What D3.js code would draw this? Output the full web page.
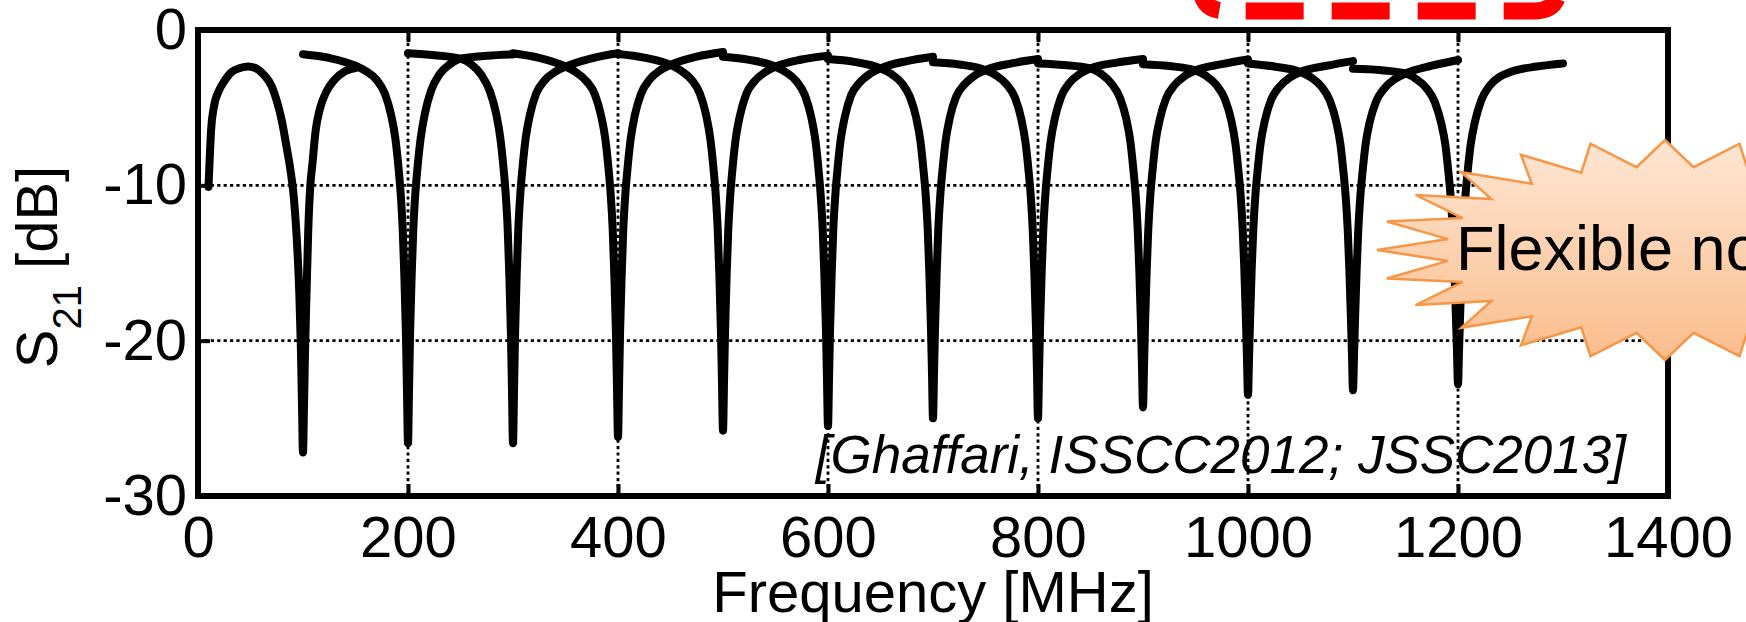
<!DOCTYPE html>
<html>
<head>
<meta charset="utf-8">
<script src="https://cdn.jsdelivr.net/npm/d3@7"></script>
<style>
  body { margin: 0; background: #fff; }
  svg { display: block; font-family: "Liberation Sans", Arial, sans-serif; }
</style>
</head>
<body>
<div class="chart"></div>
<script>
// first sweep (notch at 100 MHz) starts at 10 MHz, so it has its own frequency list
var freq_100 = [10, 11, 12.5, 15, 20, 25, 32, 40, 48, 56, 63, 70, 76, 80, 84, 88, 91, 93, 95, 96.5, 98, 99, 100,
                101, 102, 103.5, 105, 107, 109, 112, 116, 122, 130, 140, 150];
var s21_100 = [-10.1, -8.5, -6.4, -5.0, -3.9, -3.3, -2.7, -2.45, -2.35, -2.5, -2.9, -3.6, -4.8, -5.9, -7.4, -9.0, -10.6, -12.3, -14.6, -17.0, -20.5, -24.0, -27.2,
               -24.0, -20.5, -16.6, -12.9, -10.0, -8.6, -6.5, -5.1, -4.0, -3.2, -2.65, -2.45];

// the other sweeps: frequency offset from the notch [MHz]
var notchOffsets = [-100, -75, -50, -40, -30, -22, -16, -12, -9, -7, -5, -3.5, -2, -1, 0,
                    1, 2, 3.5, 5, 7, 9, 12, 16, 22, 30, 40, 50, 75, 100];
var notchFreqs = [200, 300, 400, 500, 600, 700, 800, 900, 1000, 1100, 1200];

var s21_200 = [-1.56, -1.80, -2.30, -2.65, -3.2, -4.1, -5.5, -7.0, -8.9, -10.5, -12.9, -15.8, -19.5, -23.1, -26.6,
               -23.1, -19.5, -15.8, -12.9, -10.5, -8.9, -7.0, -5.4, -3.9, -2.85, -2.2, -1.85, -1.66, -1.57];
var s21_300 = [-1.50, -1.62, -1.85, -2.2, -2.9, -3.95, -5.4, -7.0, -8.9, -10.5, -12.9, -15.8, -19.5, -23.1, -26.6,
               -23.1, -19.5, -15.8, -12.9, -10.5, -8.9, -7.0, -5.5, -4.1, -3.25, -2.7, -2.36, -1.82, -1.50];
var s21_400 = [-1.50, -1.80, -2.36, -2.72, -3.3, -4.15, -5.55, -7.05, -8.95, -10.55, -12.9, -15.8, -19.4, -22.9, -26.2,
               -22.9, -19.4, -15.8, -12.9, -10.55, -8.95, -7.05, -5.5, -4.1, -3.2, -2.6, -2.25, -1.72, -1.42];
var s21_500 = [-1.55, -1.78, -2.25, -2.62, -3.2, -4.1, -5.5, -7.05, -8.95, -10.55, -12.9, -15.7, -19.3, -22.6, -25.8,
               -22.6, -19.3, -15.7, -12.9, -10.55, -8.95, -7.05, -5.55, -4.15, -3.3, -2.72, -2.36, -1.9, -1.65];
var s21_600 = [-1.72, -1.92, -2.36, -2.72, -3.3, -4.2, -5.6, -7.1, -9.0, -10.6, -12.9, -15.7, -19.2, -22.4, -25.5,
               -22.4, -19.2, -15.7, -12.9, -10.6, -9.0, -7.1, -5.6, -4.2, -3.4, -2.82, -2.47, -2.0, -1.72];
var s21_700 = [-1.87, -2.05, -2.47, -2.82, -3.4, -4.3, -5.65, -7.15, -9.05, -10.6, -12.9, -15.6, -19.0, -22.0, -25.0,
               -22.0, -19.0, -15.6, -12.9, -10.6, -9.05, -7.15, -5.65, -4.3, -3.5, -2.92, -2.58, -2.15, -1.87];
var s21_800 = [-2.08, -2.22, -2.58, -2.92, -3.5, -4.35, -5.7, -7.2, -9.05, -10.6, -12.9, -15.6, -19.0, -22.0, -25.0,
               -22.0, -19.0, -15.6, -12.9, -10.6, -9.05, -7.2, -5.7, -4.3, -3.4, -2.82, -2.47, -2.1, -1.87];
var s21_900 = [-2.15, -2.25, -2.47, -2.82, -3.45, -4.35, -5.7, -7.2, -9.1, -10.6, -12.9, -15.5, -18.8, -21.6, -24.3,
               -21.6, -18.8, -15.5, -12.9, -10.6, -9.1, -7.2, -5.75, -4.4, -3.55, -2.95, -2.6, -2.2, -1.90];
var s21_1000 = [-2.20, -2.32, -2.60, -2.95, -3.55, -4.45, -5.8, -7.3, -9.15, -10.65, -12.9, -15.4, -18.6, -21.1, -23.5,
                -21.1, -18.6, -15.4, -12.9, -10.65, -9.15, -7.3, -5.85, -4.5, -3.65, -3.05, -2.70, -2.3, -2.00];
var s21_1100 = [-2.15, -2.35, -2.70, -3.05, -3.65, -4.55, -5.9, -7.35, -9.2, -10.7, -12.9, -15.4, -18.5, -20.9, -23.2,
                -20.9, -18.5, -15.4, -12.9, -10.7, -9.2, -7.35, -5.9, -4.6, -3.75, -3.15, -2.80, -2.3, -1.93];
var s21_1200 = [-2.50, -2.58, -2.80, -3.15, -3.75, -4.65, -6.0, -7.4, -9.25, -10.75, -12.9, -15.3, -18.4, -20.6, -22.8,
                -20.6, -18.4, -15.3, -12.9, -10.75, -9.25, -7.4, -5.95, -4.55, -3.6, -3.0, -2.7, -2.35, -2.15];

var sweepValues = [s21_200, s21_300, s21_400, s21_500, s21_600, s21_700, s21_800, s21_900, s21_1000, s21_1100, s21_1200];

var xTicks = [0, 200, 400, 600, 800, 1000, 1200, 1400];
var yTicks = [0, -10, -20, -30];
var gridX = [200, 400, 600, 800, 1000, 1200];
var gridY = [-10, -20];

var svgWidth = 1746;
var svgHeight = 622;
var margin = { top: 30, right: 78, bottom: 126, left: 198 };
var width = svgWidth - margin.left - margin.right;
var height = svgHeight - margin.top - margin.bottom;
var labelSize = "58px";

var svg = d3
    .select(".chart")
    .append("svg")
    .attr("width", svgWidth)
    .attr("height", svgHeight);

var chart = svg.append("g")
    .attr("transform", "translate(" + margin.left + "," + margin.top + ")");

var xLinearScale = d3.scaleLinear().domain([0, 1400]).range([0, width]);
var yLinearScale = d3.scaleLinear().domain([-30, 0]).range([height, 0]);

// dotted grid
chart.selectAll(".grid-x")
    .data(gridX)
    .enter()
    .append("line")
    .attr("class", "grid-x")
    .attr("x1", function(d) { return xLinearScale(d); })
    .attr("x2", function(d) { return xLinearScale(d); })
    .attr("y1", 0)
    .attr("y2", height)
    .attr("stroke", "#000")
    .attr("stroke-width", 2.8)
    .attr("stroke-dasharray", "3.2,3.2");

chart.selectAll(".grid-y")
    .data(gridY)
    .enter()
    .append("line")
    .attr("class", "grid-y")
    .attr("x1", 0)
    .attr("x2", width)
    .attr("y1", function(d) { return yLinearScale(d); })
    .attr("y2", function(d) { return yLinearScale(d); })
    .attr("stroke", "#000")
    .attr("stroke-width", 2.8)
    .attr("stroke-dasharray", "3.2,3.2");

// measured sweeps
var sweeps = [];
sweeps.push(freq_100.map(function(f, i) { return { f: f, v: s21_100[i] }; }));
notchFreqs.forEach(function(n, k) {
    sweeps.push(notchOffsets.map(function(o, i) { return { f: n + o, v: sweepValues[k][i] }; }));
});

var line = d3.line()
    .x(function(d) { return xLinearScale(d.f); })
    .y(function(d) { return yLinearScale(d.v); })
    .curve(d3.curveMonotoneX);

chart.selectAll(".sweep")
    .data(sweeps)
    .enter()
    .append("path")
    .attr("class", "sweep")
    .attr("d", line)
    .attr("fill", "none")
    .attr("stroke", "#000")
    .attr("stroke-width", 8)
    .attr("stroke-linejoin", "round")
    .attr("stroke-linecap", "round");

// axes (ticks pointing inwards on all four sides)
var plainNumber = function(d) { return String(d); };
var bottomAxis = d3.axisBottom(xLinearScale).tickValues(xTicks).tickFormat(plainNumber)
    .tickSizeInner(-12).tickSizeOuter(0).tickPadding(20);
var topAxis = d3.axisTop(xLinearScale).tickValues(xTicks).tickSizeInner(-12).tickSizeOuter(0).tickFormat("");
var leftAxis = d3.axisLeft(yLinearScale).tickValues(yTicks).tickFormat(plainNumber)
    .tickSizeInner(-12).tickSizeOuter(0).tickPadding(11);
var rightAxis = d3.axisRight(yLinearScale).tickValues(yTicks).tickSizeInner(-12).tickSizeOuter(0).tickFormat("");

function styleAxis(g) {
    g.select(".domain").remove();
    g.selectAll(".tick line").attr("stroke", "#000").attr("stroke-width", 4);
    g.selectAll(".tick text")
        .attr("fill", "#000")
        .style("font-size", labelSize)
        .style("font-family", "'Liberation Sans', Arial, sans-serif");
}

chart.append("g")
    .attr("class", "x-axis")
    .attr("transform", "translate(0," + height + ")")
    .call(bottomAxis)
    .call(styleAxis);

chart.append("g")
    .attr("class", "x-axis-top")
    .call(topAxis)
    .call(styleAxis);

chart.append("g")
    .attr("class", "y-axis")
    .call(leftAxis)
    .call(styleAxis);

chart.append("g")
    .attr("class", "y-axis-right")
    .attr("transform", "translate(" + width + ",0)")
    .call(rightAxis)
    .call(styleAxis);

chart.append("rect")
    .attr("x", 0)
    .attr("y", 0)
    .attr("width", width)
    .attr("height", height)
    .attr("fill", "none")
    .attr("stroke", "#000")
    .attr("stroke-width", 6);

// axis titles
svg.append("text")
    .attr("x", margin.left + width / 2)
    .attr("y", 612)
    .attr("text-anchor", "middle")
    .style("font-size", labelSize)
    .text("Frequency [MHz]");

var yTitle = svg.append("text")
    .attr("transform", "translate(57," + (margin.top + height / 2 + 4) + ") rotate(-90)")
    .attr("text-anchor", "middle")
    .style("font-size", labelSize);
yTitle.append("tspan").text("S");
yTitle.append("tspan").attr("dy", 24).style("font-size", "40px").text("21");
yTitle.append("tspan").attr("dy", -24).text("\u00a0[dB]");

// reference
svg.append("text")
    .attr("x", 1626)
    .attr("y", 473)
    .attr("text-anchor", "end")
    .style("font-size", "53px")
    .style("font-style", "italic")
    .text("[Ghaffari, ISSCC2012; JSSC2013]");

// red dashed frame (only its bottom edge is inside the crop)
svg.append("path")
    .attr("d", "M1201,-50 L1201,-14 Q1201,11 1226,11 L1534,11 Q1559,11 1559,-14 L1559,-50")
    .attr("fill", "none")
    .attr("stroke", "#ff0000")
    .attr("stroke-width", 17)
    .attr("stroke-dasharray", "70,26,58,28,58,28,58,28,58,26,90");

// callout burst
var defs = svg.append("defs");
var grad = defs.append("linearGradient")
    .attr("id", "burstFill")
    .attr("x1", 0).attr("y1", 0)
    .attr("x2", 0).attr("y2", 1);
grad.append("stop").attr("offset", "0%").attr("stop-color", "#fee6d4");
grad.append("stop").attr("offset", "100%").attr("stop-color", "#fabd8c");

var burst = { cx: 1665, cy: 250, rx: 288, ry: 110, spikes: 24, inner: 0.76 };
var burstPoints = d3.range(burst.spikes * 2).map(function(i) {
    var a = Math.PI + i * Math.PI / burst.spikes;
    var r = i % 2 === 0 ? 1 : burst.inner;
    return [burst.cx + burst.rx * r * Math.cos(a), burst.cy + burst.ry * r * Math.sin(a)];
});

svg.append("polygon")
    .attr("points", burstPoints.map(function(p) { return p.join(","); }).join(" "))
    .attr("fill", "url(#burstFill)")
    .attr("stroke", "#f79646")
    .attr("stroke-width", 2.5)
    .attr("stroke-linejoin", "miter");

svg.append("text")
    .attr("x", 1456)
    .attr("y", 270)
    .style("font-size", "63px")
    .text("Flexible notch");
</script>
</body>
</html>
